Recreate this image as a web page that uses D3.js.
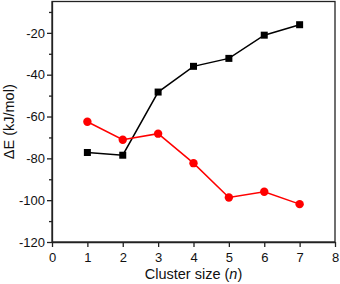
<!DOCTYPE html>
<html><head><meta charset="utf-8">
<script src="https://cdn.jsdelivr.net/npm/d3@7"></script>
<style>body{margin:0;background:#fff}svg{display:block}text{font-family:"Liberation Sans",Arial,sans-serif}</style>
</head><body><svg id="c" width="340" height="284"></svg>
<script>
const clusterSizes = [1, 2, 3, 4, 5, 6, 7];
const blackSeries = [-77.2, -78.5, -48.3, -36.0, -32.2, -21.1, -16.1];
const redSeries = [-62.5, -71.1, -68.2, -82.3, -98.7, -96.0, -101.9];
const xTicks = [0, 1, 2, 3, 4, 5, 6, 7, 8];
const yTicks = [-120, -100, -80, -60, -40, -20];
const yMinorTicks = [-110, -90, -70, -50, -30, -10];

const svg = d3.select("#c");
const m = {l: 52, r: 5, t: 1.5, b: 42};
const W = 340, H = 284;
const x = d3.scaleLinear().domain([0, 8]).range([m.l, W - m.r]);
const y = d3.scaleLinear().domain([-120, -5]).range([H - m.b, m.t]);

// frame
svg.append("rect").attr("x", m.l).attr("y", m.t).attr("width", W - m.r - m.l).attr("height", H - m.b - m.t)
  .attr("fill", "none").attr("stroke", "#222").attr("stroke-width", 1.3);

const xa = svg.append("g").attr("transform", `translate(0,${H - m.b})`)
  .call(d3.axisBottom(x).tickValues(xTicks).tickFormat(d3.format("d")).tickSize(5).tickSizeOuter(0));
const ya = svg.append("g").attr("transform", `translate(${m.l},0)`)
  .call(d3.axisLeft(y).tickValues(yTicks).tickFormat(d => d).tickSize(5).tickSizeOuter(0));
svg.append("g").attr("transform", `translate(${m.l},0)`)
  .call(d3.axisLeft(y).tickValues(yMinorTicks).tickFormat("").tickSize(3).tickSizeOuter(0))
  .select(".domain").remove();
svg.selectAll(".tick line").attr("stroke", "#222").attr("stroke-width", 1.3);
svg.selectAll(".domain").attr("stroke", "#222").attr("stroke-width", 1.3);
svg.selectAll(".tick text").attr("font-size", 13).attr("fill", "#111").attr("font-family", "Liberation Sans, Arial, sans-serif");
xa.selectAll(".tick text").attr("dy", "0.9em");
ya.selectAll(".tick text").attr("x", -7);

const line = d3.line().x((d, i) => x(clusterSizes[i])).y(d => y(d));
svg.append("path").datum(blackSeries).attr("d", line).attr("fill", "none").attr("stroke", "#000").attr("stroke-width", 1.5);
svg.append("path").datum(redSeries).attr("d", line).attr("fill", "none").attr("stroke", "#ff0000").attr("stroke-width", 1.5);
svg.selectAll(".sq").data(blackSeries).join("rect").attr("class", "sq")
  .attr("x", (d, i) => x(clusterSizes[i]) - 3.5).attr("y", d => y(d) - 3.5).attr("width", 7).attr("height", 7).attr("fill", "#000");
svg.selectAll(".ci").data(redSeries).join("circle").attr("class", "ci")
  .attr("cx", (d, i) => x(clusterSizes[i])).attr("cy", d => y(d)).attr("r", 4.2).attr("fill", "#ff0000");

const xl = svg.append("text").attr("x", (m.l + W - m.r) / 2).attr("y", 279).attr("text-anchor", "middle")
  .attr("font-size", 14.5).attr("fill", "#111");
xl.append("tspan").text("Cluster size (");
xl.append("tspan").attr("font-style", "italic").text("n");
xl.append("tspan").text(")");

svg.append("text").attr("transform", `translate(14,${(m.t + H - m.b) / 2}) rotate(-90)`).attr("text-anchor", "middle")
  .attr("font-size", 14.5).attr("fill", "#111").text("ΔE (kJ/mol)");
</script></body></html>
